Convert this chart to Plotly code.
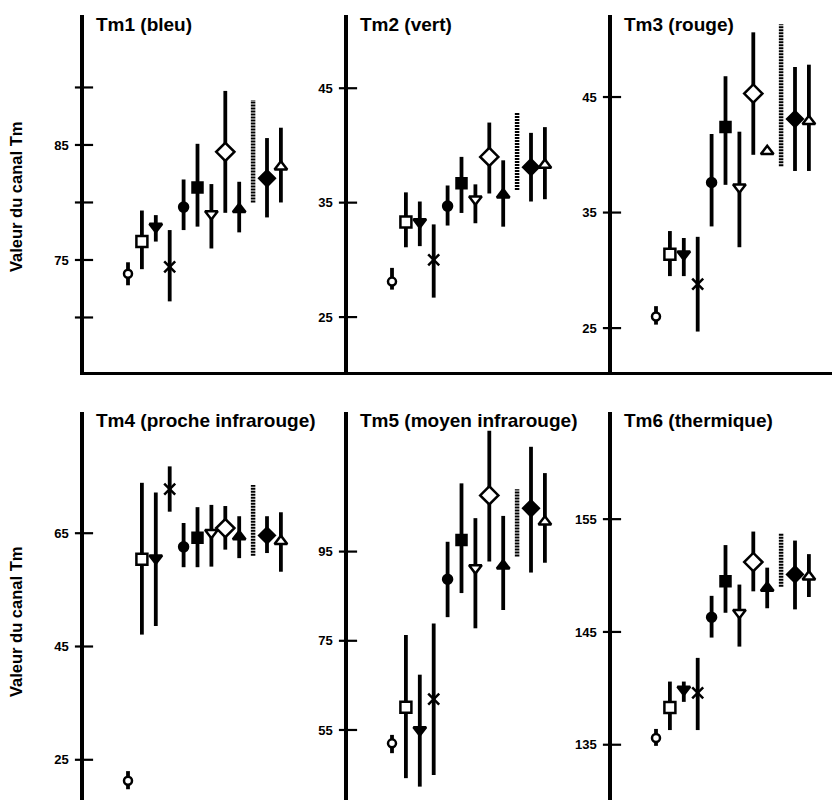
import plotly.graph_objects as go

# ---------------- data ----------------
categories = list(range(1, 13))  # 12 classes, in order of appearance

panel_titles = ["Tm1 (bleu)", "Tm2 (vert)", "Tm3 (rouge)",
                "Tm4 (proche infrarouge)", "Tm5 (moyen infrarouge)", "Tm6 (thermique)"]

# centre value (None = class drawn only as a dotted range), upper and lower ends of the bars
centre_tm1 = [73.8, 76.6, 77.9, 74.4, 79.6, 81.3, 79.0, 84.4, 79.4, None, 82.1, 83.1]
haut_tm1 = [74.8, 79.3, 78.9, 77.6, 82.0, 85.1, 81.6, 89.7, 81.8, 88.9, 85.6, 86.5]
bas_tm1 = [72.8, 74.2, 76.6, 71.4, 77.6, 77.9, 76.0, 79.1, 77.4, 80.0, 78.7, 80.0]

centre_tm2 = [28.1, 33.3, 33.3, 30.0, 34.7, 36.7, 35.3, 39.0, 35.7, None, 38.1, 38.3]
haut_tm2 = [29.3, 35.9, 35.1, 33.1, 36.5, 39.0, 36.6, 42.0, 38.7, 42.9, 41.1, 41.6]
bas_tm2 = [27.4, 31.1, 31.2, 26.7, 33.0, 34.1, 33.2, 35.8, 32.9, 36.1, 35.1, 35.3]

centre_tm3 = [26.0, 31.4, 31.4, 28.8, 37.6, 42.4, 37.2, 45.3, 40.3, None, 43.1, 42.9]
haut_tm3 = [26.9, 33.4, 32.8, 32.9, 41.8, 46.8, 42.0, 50.6, 40.3, 51.3, 47.6, 47.8]
bas_tm3 = [25.3, 29.5, 29.5, 24.7, 33.8, 37.4, 32.0, 40.0, 40.3, 39.0, 38.6, 38.6]

centre_tm4 = [21.3, 60.4, 60.6, 72.8, 62.6, 64.2, 65.1, 65.9, 64.4, None, 64.6, 63.6]
haut_tm4 = [23.0, 73.9, 72.2, 76.8, 66.8, 69.6, 70.0, 69.8, 68.0, 73.5, 68.0, 68.7]
bas_tm4 = [19.8, 47.1, 48.6, 68.8, 59.0, 59.0, 59.1, 62.1, 60.6, 61.0, 61.5, 58.2]

centre_tm5 = [52.0, 60.1, 55.0, 61.9, 88.8, 97.6, 91.3, 107.6, 91.8, None, 104.7, 101.7]
haut_tm5 = [53.9, 76.3, 67.4, 78.9, 97.2, 110.3, 102.5, 122.1, 103.0, 109.0, 118.5, 112.6]
bas_tm5 = [49.8, 44.2, 42.3, 44.9, 80.3, 85.7, 77.8, 92.8, 81.9, 93.9, 90.3, 92.5]

centre_tm6 = [135.6, 138.3, 139.9, 139.6, 146.3, 149.5, 146.7, 151.2, 148.9, None, 150.1, 149.9]
haut_tm6 = [136.4, 140.6, 140.6, 142.7, 148.2, 152.7, 149.2, 153.9, 150.7, 153.7, 153.1, 151.9]
bas_tm6 = [134.9, 136.3, 138.8, 136.3, 144.5, 146.7, 143.7, 148.6, 147.1, 149.0, 147.0, 148.1]

# y ticks of every panel and which of them carry a label
ticks_tm1 = [70, 75, 80, 85, 90]
labels_tm1 = ["", "75", "", "85", ""]
ticks_tm2 = [25, 35, 45]
ticks_tm3 = [25, 35, 45]
ticks_tm4 = [25, 45, 65]
ticks_tm5 = [55, 75, 95]
ticks_tm6 = [135, 145, 155]

y_title = "Valeur du canal Tm"

# ---------------- style ----------------
FONT = "Liberation Sans"
symbols = ["circle", "square", "triangle-down", "x-thin-open", "circle", "square",
           "triangle-down", "diamond", "triangle-up", None, "diamond", "triangle-up"]
fills = ["white", "white", "black", "black", "black", "black",
         "white", "white", "black", None, "black", "white"]
sizes = [8, 11, 11, 11, 9, 10, 11, 14, 11, None, 12, 11]
fill_override = {(3, 9): "white"}  # (panel, class) drawn open in the reference

panels = [
    (centre_tm1, haut_tm1, bas_tm1, ticks_tm1, labels_tm1, [65.26, 96.3]),
    (centre_tm2, haut_tm2, bas_tm2, ticks_tm2, [str(t) for t in ticks_tm2], [20.2, 51.4]),
    (centre_tm3, haut_tm3, bas_tm3, ticks_tm3, [str(t) for t in ticks_tm3], [21.2, 52.1]),
    (centre_tm4, haut_tm4, bas_tm4, ticks_tm4, [str(t) for t in ticks_tm4], [17.9, 86.4]),
    (centre_tm5, haut_tm5, bas_tm5, ticks_tm5, [str(t) for t in ticks_tm5], [39.3, 126.3]),
    (centre_tm6, haut_tm6, bas_tm6, ticks_tm6, [str(t) for t in ticks_tm6], [130.1, 164.5]),
]

# the page body has an 8px margin: the figure covers window pixels 8..840 x 8..800
OFF = 8
W, H = 840 - OFF, 800 - OFF
col_px = [(84, 348), (348, 612), (612, 840)]   # window pixels
row_px = [(15, 372), (412, 800)]
px_per_cat = 13.9
first_offset = 44


def fx(p):
    return (p - OFF) / W


def fy(p):
    return 1 - (p - OFF) / H


fig = go.Figure()
layout = dict(width=W, height=H, margin=dict(l=0, r=0, t=0, b=0),
              paper_bgcolor="white", plot_bgcolor="white", showlegend=False)
annotations = []

for k, (centre, haut, bas, tv, tt, yr) in enumerate(panels, start=1):
    row, col = divmod(k - 1, 3)
    x0p, x1p = col_px[col]
    y0p, y1p = row_px[row]
    sfx = "" if k == 1 else str(k)
    xa, ya = f"x{sfx}", f"y{sfx}"
    xr0 = 1 - first_offset / px_per_cat
    xr = [xr0, xr0 + (x1p - x0p) / px_per_cat]

    idx = [i for i in range(12) if symbols[i] is not None]
    xs = [categories[i] for i in idx]
    ys = [centre[i] for i in idx]
    plus = [haut[i] - centre[i] for i in idx]
    minus = [centre[i] - bas[i] for i in idx]
    cols = [fill_override.get((k, i + 1), fills[i]) for i in idx]
    fig.add_trace(go.Scatter(
        x=xs, y=ys, mode="markers", xaxis=xa, yaxis=ya,
        marker=dict(symbol=[symbols[i] for i in idx], color=cols, opacity=1,
                    size=[sizes[i] for i in idx], line=dict(color="black", width=2.5)),
        error_y=dict(type="data", symmetric=False, array=plus, arrayminus=minus,
                     color="black", thickness=3.8, width=0),
        cliponaxis=False, hoverinfo="skip"))
    # dotted range class
    for i in range(12):
        if symbols[i] is None:
            fig.add_trace(go.Scatter(
                x=[categories[i], categories[i]], y=[bas[i], haut[i]], mode="lines",
                xaxis=xa, yaxis=ya, line=dict(color="black", width=4.5, dash="2px,1px"),
                hoverinfo="skip"))
    # crossing tick marks on the y axis (one short horizontal dash per tick value)
    fig.add_trace(go.Scatter(
        x=[xr[0]] * len(tv), y=tv, mode="markers", xaxis=xa, yaxis=ya,
        marker=dict(symbol="line-ew", size=13, opacity=1, line=dict(color="black", width=2.2)),
        cliponaxis=False, hoverinfo="skip"))

    layout[f"xaxis{sfx}"] = dict(domain=[fx(x0p), min(1, fx(x1p))], range=xr, anchor=ya,
                                 showline=(row == 0), linecolor="black", linewidth=3,
                                 showgrid=False, zeroline=False, ticks="", showticklabels=False)
    layout[f"yaxis{sfx}"] = dict(domain=[max(0, fy(y1p)), fy(y0p)], range=yr, anchor=xa,
                                 showline=True, linecolor="black", linewidth=3.5,
                                 showgrid=False, zeroline=False, ticks="",
                                 tickvals=tv, ticktext=tt, ticklabelstandoff=9,
                                 tickfont=dict(family=FONT, size=13, color="black", weight="bold"))
    annotations.append(dict(text=panel_titles[k - 1], xref=f"{xa} domain", yref=f"{ya} domain",
                            x=0, y=1, xanchor="left", yanchor="middle", xshift=10, yshift=-9,
                            showarrow=False,
                            font=dict(family=FONT, size=19, color="black", weight="bold")))

for yc in (197, 622):
    annotations.append(dict(text=y_title, xref="paper", yref="paper", x=fx(16), y=fy(yc),
                            xanchor="center", yanchor="middle", textangle=-90, showarrow=False,
                            font=dict(family=FONT, size=16.5, color="black", weight="bold")))

layout["annotations"] = annotations
fig.update_layout(**layout)
fig.write_html("out.html")
